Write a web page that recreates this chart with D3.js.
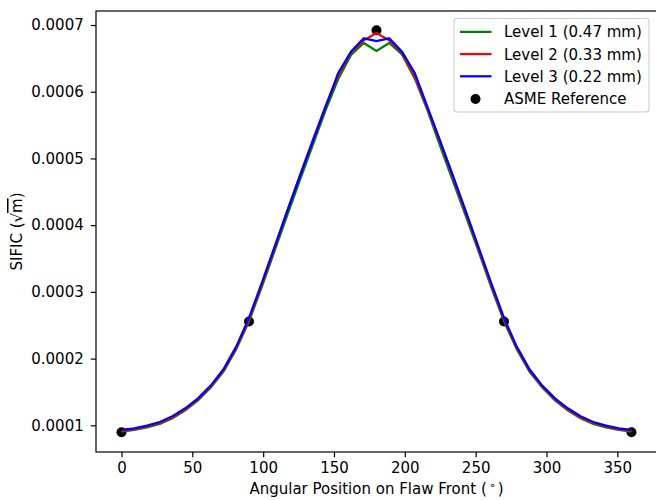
<html>
<head>
<script src="https://d3js.org/d3.v7.min.js"></script>
<style>
  body { margin: 0; background: white; }
  text { font-family: "DejaVu Sans", sans-serif; font-size: 15px; fill: black; }
</style>
</head>
<body>
<svg id="chart" width="656" height="500"></svg>
<script>
// angular positions (deg) of the FE nodes along the flaw front
var angles = [0, 9, 18, 27, 36, 45, 54, 63, 72, 81, 90, 99, 108, 117, 126, 135, 144, 153, 162, 171, 180,
              189, 198, 207, 216, 225, 234, 243, 252, 261, 270, 279, 288, 297, 306, 315, 324, 333, 342, 351, 360];

var level1 = [0.0000905, 0.0000930, 0.0000970, 0.0001020, 0.0001105, 0.0001225, 0.0001375, 0.0001565, 0.0001805, 0.0002140,
              0.0002560, 0.0003070, 0.0003610, 0.0004150, 0.0004680, 0.0005200, 0.0005720, 0.0006190, 0.0006550, 0.0006730,
              0.0006610, 0.0006730, 0.0006560, 0.0006200, 0.0005720, 0.0005180, 0.0004660, 0.0004140, 0.0003610, 0.0003070,
              0.0002560, 0.0002140, 0.0001805, 0.0001565, 0.0001375, 0.0001225, 0.0001105, 0.0001020, 0.0000970, 0.0000930,
              0.0000905];
var level2 = [0.0000915, 0.0000942, 0.0000982, 0.0001036, 0.0001120, 0.0001240, 0.0001390, 0.0001580, 0.0001822, 0.0002160,
              0.0002585, 0.0003110, 0.0003660, 0.0004210, 0.0004750, 0.0005270, 0.0005780, 0.0006245, 0.0006590, 0.0006770,
              0.0006880, 0.0006770, 0.0006590, 0.0006230, 0.0005750, 0.0005240, 0.0004720, 0.0004190, 0.0003650, 0.0003105,
              0.0002585, 0.0002160, 0.0001822, 0.0001580, 0.0001390, 0.0001240, 0.0001120, 0.0001036, 0.0000982, 0.0000942,
              0.0000915];
var level3 = [0.0000930, 0.0000955, 0.0000995, 0.0001050, 0.0001135, 0.0001255, 0.0001405, 0.0001595, 0.0001840, 0.0002180,
              0.0002610, 0.0003130, 0.0003670, 0.0004210, 0.0004740, 0.0005260, 0.0005770, 0.0006280, 0.0006600, 0.0006800,
              0.0006760, 0.0006800, 0.0006600, 0.0006280, 0.0005770, 0.0005260, 0.0004740, 0.0004210, 0.0003670, 0.0003130,
              0.0002610, 0.0002180, 0.0001840, 0.0001595, 0.0001405, 0.0001255, 0.0001135, 0.0001050, 0.0000995, 0.0000955,
              0.0000930];

var asmeAngles = [0, 90, 180, 270, 360];
var asmeValues = [0.0000895, 0.0002555, 0.000692, 0.0002555, 0.0000895];

var seriesNames = ["Level 1 (0.47 mm)", "Level 2 (0.33 mm)", "Level 3 (0.22 mm)"];
var seriesColors = ["green", "red", "blue"];
var xTicks = [0, 50, 100, 150, 200, 250, 300, 350];
var yTicks = [0.0001, 0.0002, 0.0003, 0.0004, 0.0005, 0.0006, 0.0007];

var plotL = 96, plotR = 657, plotT = 11, plotB = 452;

var svg = d3.select("#chart");

var x = d3.scaleLinear().domain([-18, 378]).range([plotL, plotR]);
var y = d3.scaleLinear().domain([0.00006, 0.000721]).range([plotB, plotT]);

// reference points first (lines sit above them)
svg.append("g").selectAll("circle").data(asmeAngles).enter().append("circle")
	.attr("cx", function(d){ return x(d); })
	.attr("cy", function(d, i){ return y(asmeValues[i]); })
	.attr("r", 5)
	.attr("fill", "black");

var line = d3.line()
	.x(function(d){ return x(d[0]); })
	.y(function(d){ return y(d[1]); });

[level1, level2, level3].forEach(function(vals, k) {
	svg.append("path")
		.datum(angles.map(function(a, i){ return [a, vals[i]]; }))
		.attr("d", line)
		.attr("fill", "none")
		.attr("stroke", seriesColors[k])
		.attr("stroke-width", 2.25)
		.attr("stroke-linejoin", "miter");
});

// axes
var xAxis = svg.append("g").attr("transform", "translate(0," + plotB + ")")
	.call(d3.axisBottom(x).tickValues(xTicks).tickSize(5.25).tickPadding(5.5).tickSizeOuter(0));
var yAxis = svg.append("g").attr("transform", "translate(" + plotL + ",0)")
	.call(d3.axisLeft(y).tickValues(yTicks).tickFormat(d3.format(".4f")).tickSize(5.25).tickPadding(7).tickSizeOuter(0));
[xAxis, yAxis].forEach(function(a) {
	a.selectAll("text").style("font-family", "DejaVu Sans").style("font-size", "15px").attr("fill", "black");
	a.selectAll("line").attr("stroke", "black").attr("stroke-width", 1.2);
	a.select(".domain").remove();
});

// spines
svg.append("rect").attr("x", plotL).attr("y", plotT).attr("width", plotR - plotL).attr("height", plotB - plotT)
	.attr("fill", "none").attr("stroke", "black").attr("stroke-width", 1.2);

// axis labels
var xl = svg.append("text").attr("x", (plotL + plotR) / 2).attr("y", 494).attr("text-anchor", "middle");
xl.append("tspan").text("Angular Position on Flaw Front (");
xl.append("tspan").text("\u2218").attr("dx", 2).attr("dy", -5).style("font-size", "11px");
xl.append("tspan").text(")").attr("dx", 2).attr("dy", 5);

var yl = svg.append("text").attr("transform", "translate(22," + ((plotT + plotB) / 2) + ") rotate(-90)")
	.attr("text-anchor", "middle");
yl.append("tspan").text("SIFIC (\u221A");
yl.append("tspan").text("m").style("text-decoration", "overline");
yl.append("tspan").text(")");

// legend
var lg = svg.append("g").attr("transform", "translate(454,18.5)");
lg.append("rect").attr("width", 195).attr("height", 93.5).attr("rx", 3)
	.attr("fill", "white").attr("fill-opacity", 0.8).attr("stroke", "#cccccc").attr("stroke-width", 1.1);
var rowY = [13.4, 35.6, 57.8, 80];
seriesNames.forEach(function(n, k) {
	lg.append("line").attr("x1", 6).attr("x2", 37.5).attr("y1", rowY[k]).attr("y2", rowY[k])
		.attr("stroke", seriesColors[k]).attr("stroke-width", 2.25);
	lg.append("text").attr("x", 50).attr("y", rowY[k]).attr("dy", "0.36em").text(n);
});
lg.append("circle").attr("cx", 21.5).attr("cy", rowY[3] + 0.5).attr("r", 5).attr("fill", "black");
lg.append("text").attr("x", 50).attr("y", rowY[3]).attr("dy", "0.36em").text("ASME Reference");
</script>
</body>
</html>
